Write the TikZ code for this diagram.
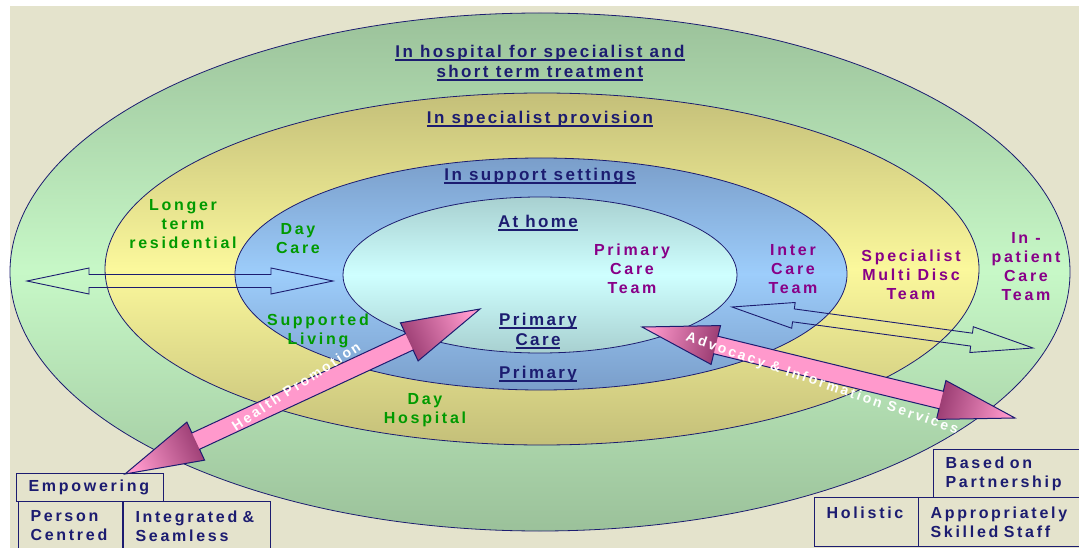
\documentclass[tikz,border=0pt]{standalone}
\usepackage{fontspec}
\setmainfont{Liberation Sans}
\newfontfamily\lblfont[LetterSpace=17]{Liberation Sans}
\newfontfamily\zonefont[LetterSpace=14]{Liberation Sans}
\usetikzlibrary{calc}
\definecolor{bg}{HTML}{E4E3CC}
\definecolor{navy}{HTML}{1C1C70}
\definecolor{grn}{HTML}{009A00}
\definecolor{purp}{HTML}{880088}
\definecolor{pinkc}{HTML}{FF99CC}
\definecolor{pinkd}{HTML}{9A3C72}
\definecolor{grnD}{HTML}{9BC19A}
\definecolor{grnL}{HTML}{C7F8C7}
\definecolor{ylwD}{HTML}{C4BF79}
\definecolor{ylwL}{HTML}{FBF89C}
\definecolor{bluD}{HTML}{7A9ECA}
\definecolor{bluL}{HTML}{9DCDFB}
\definecolor{cyaD}{HTML}{A8D0D0}
\definecolor{cyaL}{HTML}{CFFFFF}
\newcommand{\ul}[1]{\setbox0=\hbox{#1}\rlap{\rule[-3.5pt]{\wd0}{1.6pt}}\box0}
% corner points of a two-headed block arrow from #2 to #3
\newcommand{\twohead}[6]{%
  \coordinate (#1ha) at ($(#2)!#4!(#3)$);
  \coordinate (#1hb) at ($(#3)!#4!(#2)$);
  \coordinate (#1a1) at ($(#1ha)!#5!90:(#3)$);
  \coordinate (#1a2) at ($(#1ha)!#6!90:(#3)$);
  \coordinate (#1a3) at ($(#1ha)!#6!-90:(#3)$);
  \coordinate (#1a4) at ($(#1ha)!#5!-90:(#3)$);
  \coordinate (#1b1) at ($(#1hb)!#5!-90:(#2)$);
  \coordinate (#1b2) at ($(#1hb)!#6!-90:(#2)$);
  \coordinate (#1b3) at ($(#1hb)!#6!90:(#2)$);
  \coordinate (#1b4) at ($(#1hb)!#5!90:(#2)$);
}
\tikzset{
  ring/.style={draw=navy, line width=0.8pt},
  zone/.style={text=navy, font=\zonefont\bfseries\fontsize{17}{20}\selectfont, align=center, inner sep=0pt},
  place/.style={text=grn, font=\lblfont\bfseries\fontsize{16}{19}\selectfont, align=center, inner sep=0pt},
  team/.style={place, text=purp},
  hollow/.style={draw=navy, line width=0.9pt, line join=miter},
  pinkarr/.style={draw=navy, line width=1pt, line join=miter},
  along/.style={text=white, font=\lblfont\bfseries\fontsize{14}{16}\selectfont, inner sep=0pt},
  cell/.style={draw=navy, line width=1.1pt, text=navy, font=\lblfont\bfseries\fontsize{16}{19}\selectfont,
    align=left, anchor=north west, inner xsep=12pt, inner ysep=0pt},
}
\begin{document}
\begin{tikzpicture}[x=1pt, y=-1pt]
  \useasboundingbox (0,0) rectangle (1079,548);
  \fill[white] (0,0) rectangle (1079,548);
  \fill[bg] (10,6) rectangle (1079,548);

  % rings
  \shade[top color=grnD, bottom color=grnD, middle color=grnL] (540,272) ellipse [x radius=530pt, y radius=259pt];
  \draw[ring] (540,272) ellipse [x radius=530pt, y radius=259pt];
  \shade[top color=ylwD, bottom color=ylwD, middle color=ylwL] (542,269) ellipse [x radius=437pt, y radius=176pt];
  \draw[ring] (542,269) ellipse [x radius=437pt, y radius=176pt];
  \shade[top color=bluD, bottom color=bluD, middle color=bluL] (541,274) ellipse [x radius=306pt, y radius=116pt];
  \draw[ring] (541,274) ellipse [x radius=306pt, y radius=116pt];
  \shade[top color=cyaD, bottom color=cyaD, middle color=cyaL] (540,275) ellipse [x radius=197pt, y radius=78pt];
  \draw[ring] (540,275) ellipse [x radius=197pt, y radius=78pt];

  % ring labels
  \node[zone] (hosp) at (540,63) {\ul{In hospital for specialist and}\\\ul{short term treatment}};
  \node[zone] (spec) at (540,119) {\ul{In specialist provision}};
  \node[zone] (supp) at (540,176) {\ul{In support settings}};
  \node[zone] (home) at (538,223) {\ul{At home}};
  \node[zone] (pcare) at (538,331) {\ul{Primary}\\\ul{Care}};
  \node[zone] (prim) at (538,374) {\ul{Primary}};

  \node[place] (longer) at (183,224) {Longer\\term\\residential};
  \node[place] (daycare) at (298,239) {Day\\Care};
  \node[place] (suppliv) at (318,331) {Supported\\Living};
  \node[place] (dayhosp) at (425,410) {Day\\Hospital};

  \node[team] (pct) at (632,269) {Primary\\Care\\Team};
  \node[team] (inter) at (793,269) {Inter\\Care\\Team};
  \node[team] (smd) at (911,275) {Specialist\\Multi Disc\\Team};
  \node[team] (inpat) at (1026,267) {In -\\patient\\Care\\Team};

  % open arrows
  \coordinate (lw) at (27,281);
  \coordinate (le) at (333,281);
  \coordinate (rw) at (732,307);
  \coordinate (re) at (1033,348);
  \twohead{l}{lw}{le}{62pt}{13pt}{6.5pt}
  \draw[hollow] (lw) -- (la1) -- (la2) -- (lb2) -- (lb1) -- (le) -- (lb4) -- (lb3) -- (la3) -- (la4) -- cycle;
  \twohead{r}{rw}{re}{62pt}{13pt}{6.5pt}
  \draw[hollow] (rw) -- (ra1) -- (ra2) -- (rb2) -- (rb1) -- (re) -- (rb4) -- (rb3) -- (ra3) -- (ra4) -- cycle;

  % pink arrows
  \coordinate (hpA) at (125,474);
  \coordinate (hpB) at (480,309);
  \coordinate (adA) at (642,327);
  \coordinate (adB) at (1015,418);
  \twohead{h}{hpA}{hpB}{78pt}{21pt}{9pt}
  \fill[pinkc] (hpA) -- (ha1) -- (ha2) -- (hb2) -- (hb1) -- (hpB) -- (hb4) -- (hb3) -- (ha3) -- (ha4) -- cycle;
  \shade[top color=pinkc, bottom color=pinkd, shading angle=115] (hpA) -- (ha1) -- (ha4) -- cycle;
  \shade[top color=pinkc, bottom color=pinkd, shading angle=-65] (hpB) -- (hb1) -- (hb4) -- cycle;
  \draw[pinkarr] (hpA) -- (ha1) -- (ha2) -- (hb2) -- (hb1) -- (hpB) -- (hb4) -- (hb3) -- (ha3) -- (ha4) -- cycle;
  \twohead{d}{adA}{adB}{76pt}{20pt}{9pt}
  \fill[pinkc] (adA) -- (da1) -- (da2) -- (db2) -- (db1) -- (adB) -- (db4) -- (db3) -- (da3) -- (da4) -- cycle;
  \shade[top color=pinkc, bottom color=pinkd, shading angle=76] (adA) -- (da1) -- (da4) -- cycle;
  \shade[top color=pinkc, bottom color=pinkd, shading angle=-104] (adB) -- (db1) -- (db4) -- cycle;
  \draw[pinkarr] (adA) -- (da1) -- (da2) -- (db2) -- (db1) -- (adB) -- (db4) -- (db3) -- (da3) -- (da4) -- cycle;

  \node[along, rotate=33] (hptxt) at (296,386) {Health Promotion};
  \node[along, rotate=-19] (adtxt) at (822,384) {Advocacy \& Information Services};

  % value boxes
  \node[cell, minimum height=28pt, text width=123pt] (emp) at (16,473) {Empowering};
  \node[cell, minimum height=49pt, text width=80pt] (pers) at (18,501) {Person\\Centred};
  \node[cell, minimum height=49pt, text width=123pt] (integ) at (123,501) {Integrated \&\\Seamless};
  \node[cell, minimum height=48pt, text width=125pt] (partn) at (933,449) {Based on\\Partnership};
  \node[cell, minimum height=49pt, text width=80pt] (holis) at (814,497) {Holistic\\\mbox{}};
  \node[cell, minimum height=49pt, text width=140pt] (skill) at (918,497) {Appropriately\\Skilled Staff};
\end{tikzpicture}
\end{document}
